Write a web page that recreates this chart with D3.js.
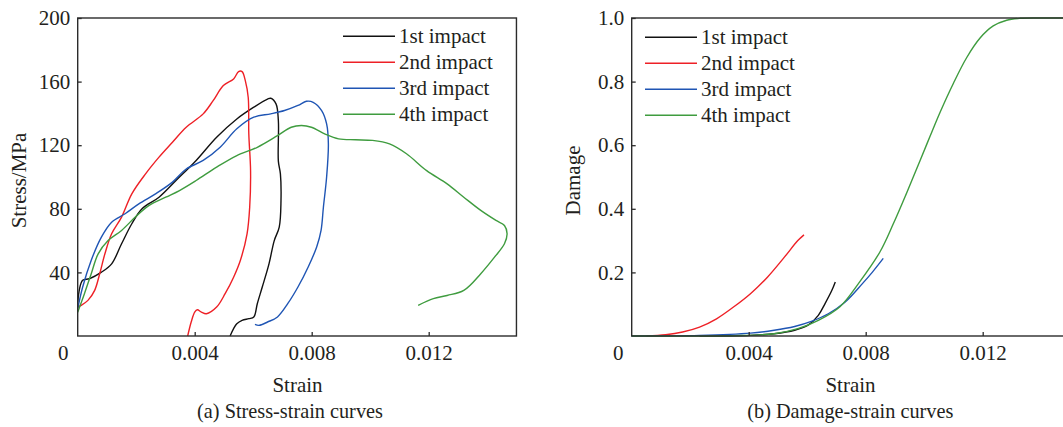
<!DOCTYPE html>
<html>
<head>
<meta charset="utf-8">
<script src="https://cdn.jsdelivr.net/npm/d3@7"></script>
<style>
  html, body { margin: 0; padding: 0; background: #fff; }
  svg text { font-family: "Liberation Serif", "Times New Roman", serif; fill: #231f20; }
</style>
</head>
<body>
<svg id="chart" width="1063" height="427"></svg>
<script>
// ---------- data ----------
const seriesNames = ["1st impact", "2nd impact", "3rd impact", "4th impact"];
const seriesColors = ["#111111", "#ee2026", "#1f55b4", "#3f9c3f"];

const strainTicks = [0.004, 0.008, 0.012];
const stressTicks = [40, 80, 120, 160, 200];
const damageTicks = [0.2, 0.4, 0.6, 0.8, 1.0];

// (a) stress-strain: [strain, stress MPa]
const stress1 = [[0,21],[0.00017,35],[0.0004,36],[0.0008,40],[0.00116,45.4],[0.0015,58],[0.00185,70.6],[0.0022,80],
  [0.00278,87.3],[0.00336,97.8],[0.00405,110.4],[0.00475,125],[0.00544,136.5],[0.00602,143.9],[0.00649,149],[0.0066,149.5],
  [0.00678,146],[0.00686,135.5],[0.00686,110],[0.00693,102],[0.00695,85],[0.00689,68.5],[0.00672,60],[0.00654,45.4],
  [0.00631,30.8],[0.00614,20.3],[0.00602,11.9],[0.00585,10.9],[0.00562,9.8],[0.00544,7.7],[0.00533,4.6],[0.00521,0]];
const stress2 = [[0,18.2],[0.00012,19.3],[0.00035,22.4],[0.00058,28.7],[0.00075,39],[0.00093,51.7],[0.00116,64.3],[0.0015,74.8],
  [0.00185,89.4],[0.00232,102],[0.00278,112.5],[0.00324,121.9],[0.00371,131.3],[0.00429,139.7],[0.00463,148],[0.00498,157.5],
  [0.00533,161.7],[0.0055,166.3],[0.00562,166.3],[0.00573,160.6],[0.00583,150],[0.00585,127],[0.00591,104],[0.00588,81],
  [0.00579,64.3],[0.00556,47.5],[0.00533,37],[0.00504,26.6],[0.00475,18.2],[0.0044,14],[0.00423,15],[0.00409,16.5],
  [0.004,15],[0.00388,8.8],[0.00376,0]];
const stress3 = [[0,17.2],[0.00017,30.8],[0.00046,47.5],[0.00081,62.2],[0.00116,71.6],[0.00162,76.9],[0.00209,83.1],[0.00266,89.4],
  [0.00324,96.8],[0.00371,105],[0.00429,110.4],[0.00487,118.7],[0.00544,130.3],[0.00602,137.6],[0.0066,139.7],[0.00707,141.8],
  [0.00753,145],[0.00782,147.6],[0.00805,147],[0.00834,141.8],[0.00851,133.4],[0.00857,120.8],[0.00851,100],[0.0084,81],
  [0.00832,66.4],[0.00817,56],[0.00788,43.4],[0.00753,30.8],[0.00718,20.3],[0.00683,12],[0.00649,8.8],[0.0062,6.7],[0.00606,7.3]];
const stress4 = [[0,15],[0.00023,26.6],[0.00046,39],[0.0007,51.7],[0.00104,60],[0.0015,66.4],[0.00197,74.8],[0.00243,82],
  [0.00301,87.3],[0.00348,91.5],[0.00405,97.8],[0.00475,106.2],[0.00544,113.5],[0.00614,118.7],[0.00683,126],[0.0073,131.3],
  [0.00765,132.4],[0.00799,131.3],[0.00846,127],[0.00892,124],[0.0095,123.4],[0.01008,123],[0.01066,120.8],[0.01124,114.6],
  [0.01193,104],[0.01263,95.7],[0.0132,87.3],[0.01378,79],[0.0143,72.7],[0.01459,69.5],[0.01468,64.3],[0.01459,58],
  [0.01425,49.6],[0.01378,39.2],[0.0132,28.7],[0.01263,25.5],[0.01216,23.5],[0.01164,19.3]];

// (b) damage-strain: [strain, damage]
const damage1 = [[0.00232,0],[0.00406,0.002],[0.00487,0.007],[0.00557,0.018],[0.00603,0.034],[0.00638,0.065],[0.00661,0.102],[0.00684,0.143],[0.00696,0.17]];
const damage2 = [[0.0005,0],[0.00116,0.004],[0.00174,0.0126],[0.00232,0.028],[0.0029,0.054],[0.00348,0.091],[0.00406,0.133],[0.00464,0.185],[0.00522,0.248],[0.00568,0.3],[0.00589,0.318]];
const damage3 = [[0,0],[0.00232,0.002],[0.00406,0.009],[0.00487,0.018],[0.00557,0.03],[0.00614,0.046],[0.00672,0.07],[0.0073,0.107],[0.00788,0.164],[0.00823,0.201],[0.0086,0.244]];
const damage4 = [[0,0],[0.00348,0.001],[0.00487,0.007],[0.00568,0.023],[0.00638,0.049],[0.00712,0.092],[0.0078,0.171],[0.00849,0.265],
  [0.00894,0.352],[0.0094,0.45],[0.00986,0.552],[0.0102,0.628],[0.01054,0.703],[0.011,0.795],[0.01145,0.875],[0.01191,0.937],
  [0.01236,0.975],[0.01282,0.993],[0.01328,0.999],[0.014,1.0],[0.015,1.0]];

const stressSeries = [stress1, stress2, stress3, stress4];
const damageSeries = [damage1, damage2, damage3, damage4];

// ---------- drawing ----------
const svg = d3.select("#chart");
const FS = 21;

function panel(opts) {
  const g = svg.append("g");
  const x = d3.scaleLinear().domain([0, 0.015]).range([opts.left, opts.left + 438.75]);
  const y = d3.scaleLinear().domain(opts.yDomain).range([336, 18]);

  // curves
  const line = d3.line().x(d => x(d[0])).y(d => y(d[1])).curve(opts.curve);
  opts.series.forEach((s, i) => {
    g.append("path").attr("d", line(s)).attr("fill", "none")
      .attr("stroke", seriesColors[i]).attr("stroke-width", 1.4).attr("stroke-linejoin", "round");
  });

  // frame
  g.append("rect").attr("x", x(0)).attr("y", y(opts.yDomain[1]))
    .attr("width", x(0.015) - x(0)).attr("height", y(opts.yDomain[0]) - y(opts.yDomain[1]))
    .attr("fill", "none").attr("stroke", "#2b2b2b").attr("stroke-width", 1.4);

  // x axis
  const xa = g.append("g").attr("transform", `translate(0,${y(opts.yDomain[0])})`)
    .call(d3.axisBottom(x).tickValues(strainTicks).tickSize(-4).tickPadding(9).tickFormat(d3.format(".3f")));
  xa.select(".domain").remove();
  xa.selectAll(".tick line").attr("stroke", "#2b2b2b").attr("stroke-width", 1.3);
  xa.selectAll("text").attr("font-size", FS).style("fill", "#231f20");

  // y axis
  const ya = g.append("g").attr("transform", `translate(${x(0)},0)`)
    .call(d3.axisLeft(y).tickValues(opts.yTicks).tickSize(-4).tickPadding(7.5).tickFormat(opts.yFormat));
  ya.select(".domain").remove();
  ya.selectAll(".tick line").attr("stroke", "#2b2b2b").attr("stroke-width", 1.3);
  ya.selectAll("text").attr("font-size", FS).style("fill", "#231f20");

  // corner zero
  g.append("text").attr("x", x(0) - opts.zeroOff).attr("y", 359.5).attr("text-anchor", "middle")
    .attr("font-size", FS).text("0");

  // axis titles
  g.append("text").attr("x", opts.xTitleX).attr("y", 391.5).attr("text-anchor", "middle")
    .attr("font-size", FS).text("Strain");
  g.append("text").attr("transform", `translate(${opts.yTitleX},180.5) rotate(-90)`)
    .attr("text-anchor", "middle").attr("dy", "0.35em").attr("font-size", FS).text(opts.yTitle);

  // caption
  g.append("text").attr("x", opts.capX).attr("y", 418).attr("text-anchor", "middle")
    .attr("font-size", 20.3).text(opts.caption);

  // legend
  const lg = g.append("g");
  seriesNames.forEach((n, i) => {
    const yy = opts.legY + i * 26;
    lg.append("line").attr("x1", opts.legX).attr("x2", opts.legX + 52).attr("y1", yy).attr("y2", yy)
      .attr("stroke", seriesColors[i]).attr("stroke-width", 1.4);
    lg.append("text").attr("x", opts.legX + 56).attr("y", yy).attr("dy", "0.33em")
      .attr("font-size", FS).text(n);
  });
}

panel({
  left: 77.7, yDomain: [0, 200], yTicks: stressTicks, yFormat: d3.format("d"),
  series: stressSeries, curve: d3.curveCatmullRom.alpha(0.5),
  zeroOff: 14.4, xTitleX: 297.5, yTitleX: 19, yTitle: "Stress/MPa",
  capX: 290, caption: "(a) Stress-strain curves", legX: 343, legY: 36.3
});
panel({
  left: 631.7, yDomain: [0, 1], yTicks: damageTicks, yFormat: d3.format(".1f"),
  series: damageSeries, curve: d3.curveCatmullRom.alpha(0.5),
  zeroOff: 13.4, xTitleX: 850.5, yTitleX: 572.4, yTitle: "Damage",
  capX: 850.3, caption: "(b) Damage-strain curves", legX: 645, legY: 37.3
});
</script>
</body>
</html>
